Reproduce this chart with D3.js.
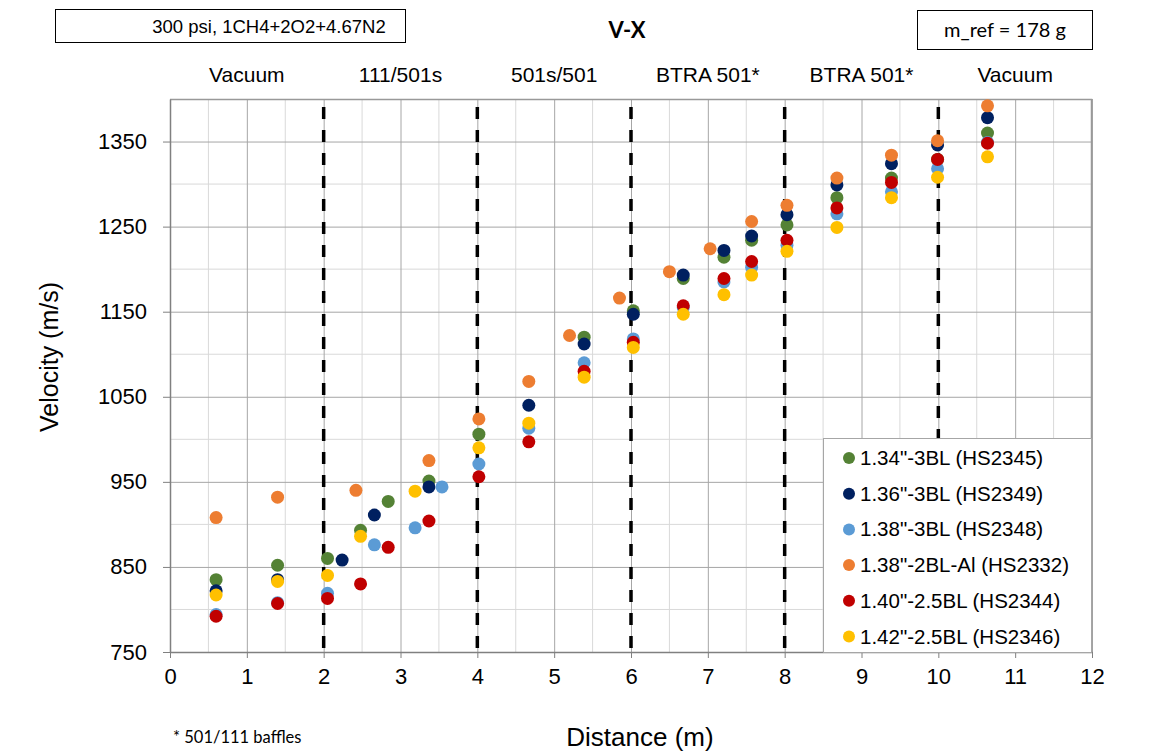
<!DOCTYPE html>
<html>
<head>
<meta charset="utf-8">
<script src="https://cdn.jsdelivr.net/npm/d3@7"></script>
<style>
  body { margin: 0; background: #fff; }
  text { font-family: "Liberation Sans", Arial, sans-serif; fill: #000; }
</style>
</head>
<body>
<div id="chart"></div>
<script>
// Series names (legend order)
const seriesNames = [
    '1.34"-3BL (HS2345)',
    '1.36"-3BL (HS2349)',
    '1.38"-3BL (HS2348)',
    '1.38"-2BL-Al (HS2332)',
    '1.40"-2.5BL (HS2344)',
    '1.42"-2.5BL (HS2346)'
];
const seriesColors = ["#548235", "#002060", "#5b9bd5", "#ed7d31", "#c00000", "#ffc000"];

// Distance (m) and velocity (m/s)
const distHS2345 = [0.6, 1.4, 2.05, 2.48, 2.84, 3.37, 4.02, 5.39, 6.03, 6.68, 7.21, 7.57, 8.03, 8.68, 9.39, 9.99, 10.64];
const velHS2345 = [835, 852, 860, 893, 927, 951, 1006, 1120, 1151, 1189, 1214, 1234, 1252, 1284, 1307, 1329, 1360];

const distHS2349 = [0.6, 1.4, 2.24, 2.66, 3.37, 4.67, 5.39, 6.03, 6.68, 7.21, 7.57, 8.03, 8.68, 9.39, 9.99, 10.64];
const velHS2349 = [822, 835, 858, 911, 944, 1040, 1112, 1147, 1193, 1222, 1239, 1264, 1299, 1324, 1346, 1378];

const distHS2348 = [0.6, 1.4, 2.05, 2.66, 3.19, 3.54, 4.02, 4.67, 5.39, 6.03, 6.68, 7.21, 7.57, 8.03, 8.68, 9.39, 9.99, 10.64];
const velHS2348 = [794, 808, 819, 876, 896, 944, 971, 1013, 1090, 1118, 1155, 1185, 1202, 1228, 1265, 1291, 1318, 1349];

const distHS2332 = [0.6, 1.4, 2.42, 3.37, 4.02, 4.67, 5.2, 5.85, 6.5, 7.03, 7.57, 8.03, 8.68, 9.39, 9.99, 10.64];
const velHS2332 = [908, 932, 940, 975, 1024, 1068, 1122, 1166, 1197, 1224, 1256, 1275, 1307, 1334, 1351, 1392];

const distHS2344 = [0.6, 1.4, 2.05, 2.48, 2.84, 3.37, 4.02, 4.67, 5.39, 6.03, 6.68, 7.21, 7.57, 8.03, 8.68, 9.39, 9.99, 10.64];
const velHS2344 = [792, 807, 813, 830, 873, 904, 956, 997, 1080, 1114, 1157, 1189, 1209, 1234, 1272, 1302, 1329, 1348];

const distHS2346 = [0.6, 1.4, 2.05, 2.48, 3.19, 4.02, 4.67, 5.39, 6.03, 6.68, 7.21, 7.57, 8.03, 8.68, 9.39, 9.99, 10.64];
const velHS2346 = [817, 833, 840, 886, 939, 990, 1019, 1073, 1108, 1147, 1170, 1193, 1221, 1249, 1284, 1308, 1332];

const seriesDist = [distHS2345, distHS2349, distHS2348, distHS2332, distHS2344, distHS2346];
const seriesVel = [velHS2345, velHS2349, velHS2348, velHS2332, velHS2344, velHS2346];

// Section boundaries and their labels
const sectionBounds = [0, 2, 4, 6, 8, 10, 12];
const sectionLabels = ["Vacuum", "111/501s", "501s/501", "BTRA 501*", "BTRA 501*", "Vacuum"];
const bafflePositions = [2, 4, 6, 8, 10];

const xTicks = d3.range(0, 13, 1);
const yTicks = [750, 850, 950, 1050, 1150, 1250, 1350];

// Layout
const W = 1162, H = 755;
const margin = { top: 99, right: 70, bottom: 103, left: 170 };
const width = W - margin.left - margin.right;
const height = H - margin.top - margin.bottom;

const svg = d3.select("#chart").append("svg")
    .attr("width", W)
    .attr("height", H);

const g = svg.append("g")
    .attr("transform", `translate(${margin.left},${margin.top})`);

const x = d3.scaleLinear().domain([0, 12]).range([0, width]);
const y = d3.scaleLinear().domain([750, 1400]).range([height, 0]);

// Minor gridlines (halves and 50s)
g.append("g")
    .selectAll("line")
    .data(d3.range(0.5, 12, 1))
    .enter().append("line")
    .attr("x1", d => x(d)).attr("x2", d => x(d))
    .attr("y1", 0).attr("y2", height)
    .attr("stroke", "#d9d9d9").attr("stroke-width", 1);

g.append("g")
    .selectAll("line")
    .data(d3.range(800, 1400, 100))
    .enter().append("line")
    .attr("x1", 0).attr("x2", width)
    .attr("y1", d => y(d)).attr("y2", d => y(d))
    .attr("stroke", "#d9d9d9").attr("stroke-width", 1);

// Major gridlines
g.append("g")
    .call(d3.axisBottom(x).tickValues(xTicks.slice(1)).tickSize(height).tickFormat(""))
    .call(s => s.select(".domain").remove())
    .selectAll(".tick line").attr("stroke", "#a6a6a6");

g.append("g")
    .call(d3.axisLeft(y).tickValues(yTicks.slice(1)).tickSize(-width).tickFormat(""))
    .call(s => s.select(".domain").remove())
    .selectAll(".tick line").attr("stroke", "#a6a6a6");

// Plot border (top and right)
g.append("path")
    .attr("d", `M0,0.5H${width - 0.5}V${height}`)
    .attr("fill", "none")
    .attr("stroke", "#999")
    .attr("stroke-width", 1.5);

// Axes
const xAxis = g.append("g")
    .attr("transform", `translate(0,${height})`)
    .call(d3.axisBottom(x).tickValues(xTicks).tickSize(6).tickPadding(10).tickSizeOuter(0).tickFormat(d3.format("d")));
xAxis.select(".domain").attr("stroke", "#808080").attr("stroke-width", 1.5);
xAxis.selectAll(".tick line").attr("stroke", "#808080");
xAxis.selectAll(".tick text").style("font-size", "22px").attr("fill", "#000");

const yAxis = g.append("g")
    .call(d3.axisLeft(y).tickValues(yTicks).tickSize(7).tickPadding(16).tickSizeOuter(0).tickFormat(d3.format("d")));
yAxis.select(".domain").attr("stroke", "#808080").attr("stroke-width", 1.5);
yAxis.selectAll(".tick line").attr("stroke", "#808080");
yAxis.selectAll(".tick text").style("font-size", "22px").attr("fill", "#000");

// Baffle dashed lines
g.append("g")
    .selectAll("line")
    .data(bafflePositions)
    .enter().append("line")
    .attr("x1", d => x(d)).attr("x2", d => x(d))
    .attr("y1", 8).attr("y2", height)
    .attr("stroke", "#000")
    .attr("stroke-width", 3.5)
    .attr("stroke-dasharray", "12,11");

// Data points
seriesNames.forEach((name, i) => {
    const pts = seriesDist[i].map((d, j) => ({ d: d, v: seriesVel[i][j] }));
    g.append("g")
        .selectAll("circle")
        .data(pts)
        .enter().append("circle")
        .attr("cx", p => x(p.d))
        .attr("cy", p => y(p.v))
        .attr("r", 6.5)
        .attr("fill", seriesColors[i]);
});

// Legend
const legend = svg.append("g").attr("transform", "translate(823,438)");
legend.append("rect")
    .attr("x", 0.5).attr("y", 0.5)
    .attr("width", 268).attr("height", 214)
    .attr("fill", "#fff")
    .attr("stroke", "#a6a6a6");
seriesNames.forEach((name, i) => {
    const row = legend.append("g").attr("transform", `translate(0,${20 + i * 35.7})`);
    row.append("circle").attr("cx", 26).attr("cy", 0).attr("r", 6).attr("fill", seriesColors[i]);
    row.append("text")
        .attr("x", 37).attr("y", 7)
        .style("font-size", "20.5px")
        .text(name);
});

// Axis titles
svg.append("text")
    .attr("transform", "translate(58,357) rotate(-90)")
    .attr("text-anchor", "middle")
    .style("font-size", "25px")
    .text("Velocity (m/s)");

svg.append("text")
    .attr("x", 640).attr("y", 746)
    .attr("text-anchor", "middle")
    .style("font-size", "26px")
    .text("Distance (m)");

// Section labels above the plot
svg.append("g")
    .selectAll("text")
    .data(sectionLabels)
    .enter().append("text")
    .attr("x", (d, i) => margin.left + x((sectionBounds[i] + sectionBounds[i + 1]) / 2))
    .attr("y", 82)
    .attr("text-anchor", "middle")
    .style("font-size", "21px")
    .text(d => d);

// Header boxes
svg.append("rect")
    .attr("x", 55.5).attr("y", 9.5)
    .attr("width", 350).attr("height", 33)
    .attr("fill", "#fff").attr("stroke", "#000");
svg.append("text")
    .attr("x", 269).attr("y", 33)
    .attr("text-anchor", "middle")
    .style("font-size", "18.5px")
    .text("300 psi, 1CH4+2O2+4.67N2");

svg.append("text")
    .attr("x", 627).attr("y", 38)
    .attr("text-anchor", "middle")
    .style("font-family", "Lato, sans-serif")
    .style("font-weight", "bold")
    .style("font-size", "22px")
    .text("V-X");

svg.append("rect")
    .attr("x", 917.5).attr("y", 10.5)
    .attr("width", 175).attr("height", 39)
    .attr("fill", "#fff").attr("stroke", "#000");
svg.append("text")
    .attr("x", 1005).attr("y", 37)
    .attr("text-anchor", "middle")
    .style("font-family", "Lato, sans-serif")
    .style("font-size", "20px")
    .text("m_ref = 178 g");

// Footnote
svg.append("text")
    .attr("x", 173).attr("y", 743)
    .style("font-family", "Lato, sans-serif")
    .style("font-size", "16.5px")
    .text("* 501/111 baffles");
</script>
</body>
</html>
